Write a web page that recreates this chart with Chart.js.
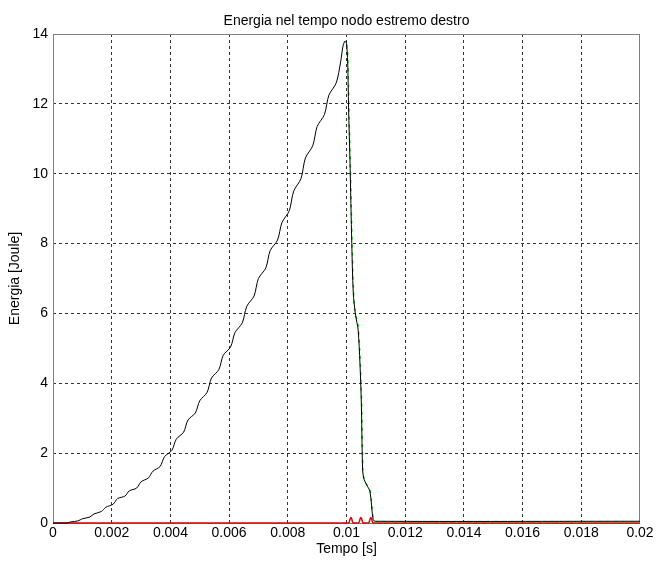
<!DOCTYPE html>
<html>
<head>
<meta charset="utf-8">
<script src="https://cdn.jsdelivr.net/npm/chart.js@4.4.1/dist/chart.umd.min.js"></script>
<style>
  html, body { margin: 0; padding: 0; background: #fff; }
  canvas { display: block; }
</style>
</head>
<body>
<canvas id="energyChart" width="657" height="562"></canvas>
<script>
const chartTitle = "Energia nel tempo nodo estremo destro";
const xTitle = "Tempo [s]";
const yTitle = "Energia [Joule]";

const xTicks = [0, 0.002, 0.004, 0.006, 0.008, 0.01, 0.012, 0.014, 0.016, 0.018, 0.02];
const xTickLabels = ["0", "0.002", "0.004", "0.006", "0.008", "0.01", "0.012", "0.014", "0.016", "0.018", "0.02"];
const yTicks = [0, 2, 4, 6, 8, 10, 12, 14];

// curva nera (energia totale)
const blackT = [0, 0.00045,
  0.0006, 0.00085, 0.0010, 0.00125, 0.0014, 0.00165, 0.0018, 0.00205,
  0.0022, 0.00245, 0.0026, 0.00285, 0.0030, 0.00325, 0.0034, 0.00365,
  0.0038, 0.00405, 0.0042, 0.00445, 0.0046, 0.00485, 0.0050, 0.00525,
  0.0054, 0.00565, 0.0058, 0.00605, 0.0062, 0.00645, 0.0066, 0.00685,
  0.0070, 0.00725, 0.0074, 0.00765, 0.0078, 0.00805, 0.0082, 0.00845,
  0.0086, 0.00885, 0.0090, 0.00925, 0.0094, 0.00965,
  0.0098, 0.00988, 0.00995, 0.0100,
  0.01004, 0.01007, 0.01012, 0.01018, 0.01023, 0.0103, 0.0104, 0.0105,
  0.01055, 0.0106, 0.01068, 0.0108, 0.01091, 0.0110, 0.0200];
const blackE = [0, 0,
  0.03, 0.06, 0.12, 0.17, 0.26, 0.33, 0.45, 0.54,
  0.70, 0.77, 0.92, 1.00, 1.18, 1.29, 1.48, 1.62,
  1.90, 2.08, 2.40, 2.60, 2.95, 3.15, 3.50, 3.74,
  4.15, 4.39, 4.80, 5.04, 5.45, 5.73, 6.20, 6.50,
  7.00, 7.30, 7.80, 8.10, 8.60, 8.94, 9.50, 9.86,
  10.45, 10.80, 11.35, 11.70, 12.25, 12.60,
  13.20, 13.65, 13.80, 13.72,
  13.2, 11.9, 10.3, 8.0, 6.6, 6.0, 5.5, 3.6,
  1.5, 1.25, 1.10, 0.90, 0.09, 0.05, 0.05];

// curva verde (visibile solo sotto la discesa)
const greenT = [0.01001, 0.01005, 0.01008, 0.01013, 0.01019, 0.01024, 0.01031, 0.01041,
  0.01051, 0.01056, 0.01061, 0.01069, 0.01081, 0.01092, 0.0110, 0.0200];
const greenE = [13.7, 13.2, 11.9, 10.3, 8.0, 6.6, 6.0, 5.5,
  3.6, 1.5, 1.25, 1.10, 0.90, 0.09, 0.03, 0.03];

// curva rossa (quasi nulla, tre piccole gobbe)
const redT = [0, 0.01008, 0.01012, 0.01015, 0.01018, 0.01022,
  0.01042, 0.01046, 0.01049, 0.01052, 0.01056,
  0.01076, 0.0108, 0.01083, 0.01086, 0.0109, 0.0200];
const redE = [0, 0, 0.11, 0.16, 0.11, 0,
  0, 0.11, 0.16, 0.11, 0,
  0, 0.11, 0.16, 0.11, 0, 0];

const toPoints = (ts, es) => ts.map((t, i) => ({ x: t, y: es[i] }));

const FONT = "'Liberation Sans', Arial, sans-serif";

const boxAndTitle = {
  id: "boxAndTitle",
  beforeDatasetsDraw(chart) {
    const { ctx, chartArea: a } = chart;
    ctx.save();
    ctx.strokeStyle = "#808080";
    ctx.lineWidth = 1;
    ctx.strokeRect(Math.round(a.left) + 0.5, Math.round(a.top) + 0.5,
      Math.round(a.right - a.left) - 1, Math.round(a.bottom - a.top));
    ctx.restore();
  },
  afterDraw(chart) {
    const { ctx, chartArea: a } = chart;
    ctx.save();
    ctx.font = "14px " + FONT;
    ctx.fillStyle = "#000";
    ctx.textAlign = "center";
    ctx.textBaseline = "alphabetic";
    ctx.fillText(chartTitle, (a.left + a.right) / 2, 25);
    ctx.restore();
  },
};

const innerOnly = (ticks) => (c) =>
  c.index === 0 || c.index === ticks.length - 1 ? "rgba(0,0,0,0)" : "#333";

new Chart(document.getElementById("energyChart"), {
  type: "line",
  data: {
    datasets: [
      {
        data: toPoints(blackT, blackE),
        borderColor: "#000",
        borderWidth: 1,
        pointRadius: 0,
        tension: 0.3,
        clip: 3,
        order: 1,
      },
      {
        data: toPoints(greenT, greenE),
        borderColor: "#00e000",
        borderWidth: 1.5,
        borderDash: [3, 5],
        pointRadius: 0,
        cubicInterpolationMode: "monotone",
        clip: 3,
        order: 2,
      },
      {
        data: toPoints(redT, redE),
        borderColor: "#e00000",
        borderWidth: 1.5,
        pointRadius: 0,
        cubicInterpolationMode: "monotone",
        clip: 3,
        order: 3,
      },
    ],
  },
  options: {
    responsive: false,
    animation: false,
    layout: { padding: { top: 34, right: 17, left: 0, bottom: 0 } },
    plugins: {
      legend: { display: false },
      tooltip: { enabled: false },
    },
    scales: {
      x: {
        type: "linear",
        min: 0,
        max: 0.02,
        afterBuildTicks: (s) => { s.ticks = xTicks.map((v) => ({ value: v })); },
        afterFit: (s) => { s.height = 39; },
        ticks: {
          autoSkip: false,
          maxRotation: 0,
          padding: 2,
          color: "#000",
          font: { family: FONT, size: 14 },
          callback: (v, i) => xTickLabels[i],
        },
        grid: { color: innerOnly(xTicks), drawTicks: false, lineWidth: 1 },
        border: { display: false, dash: [3, 3] },
        title: {
          display: true,
          text: xTitle,
          color: "#000",
          font: { family: FONT, size: 14 },
          padding: { top: 0, bottom: 4 },
        },
      },
      y: {
        type: "linear",
        min: 0,
        max: 14,
        afterBuildTicks: (s) => { s.ticks = yTicks.map((v) => ({ value: v })); },
        afterFit: (s) => { s.width = 53; },
        ticks: {
          padding: 5,
          color: "#000",
          font: { family: FONT, size: 14 },
        },
        grid: { color: innerOnly(yTicks), drawTicks: false, lineWidth: 1 },
        border: { display: false, dash: [3, 3] },
        title: {
          display: true,
          text: yTitle,
          color: "#000",
          font: { family: FONT, size: 14 },
          padding: { top: 7, bottom: 0 },
        },
      },
    },
  },
  plugins: [boxAndTitle],
});
</script>
</body>
</html>
